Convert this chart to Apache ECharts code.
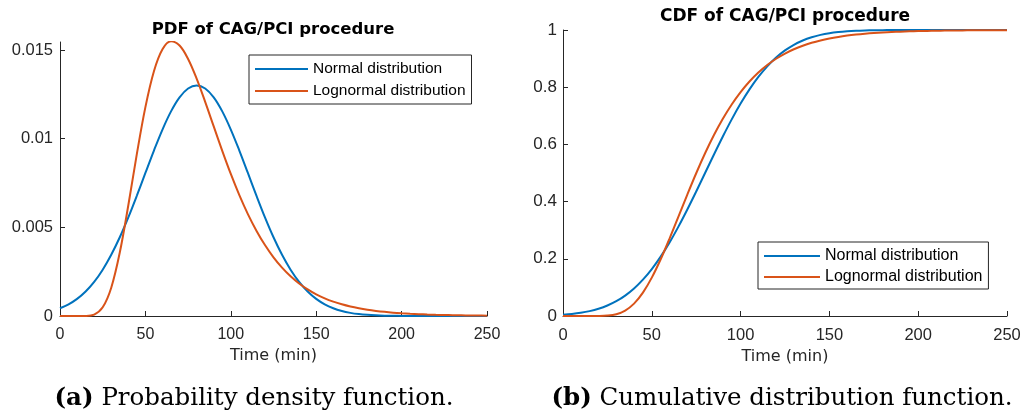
<!DOCTYPE html>
<html>
<head>
<meta charset="utf-8">
<script src="https://cdn.jsdelivr.net/npm/echarts@6/dist/echarts.min.js"></script>
<style>html,body{margin:0;padding:0;background:#fff}#c{width:1025px;height:415px}</style>
</head>
<body>
<div id="c"></div>
<script>
// ---- data ----
const times = [0,5,10,15,20,25,30,35,40,45,50,55,60,65,70,75,80,85,90,95,100,105,110,115,120,125,130,135,140,145,150,155,160,165,170,175,180,185,190,195,200,205,210,215,220,225,230,235,240,245,250];
const normalPdf = [0.000436,0.000658,0.000966,0.001382,0.001925,0.002612,0.003451,0.004440,0.005563,0.006788,0.008065,0.009331,0.010514,0.011537,0.012328,0.012829,0.013000,0.012829,0.012328,0.011537,0.010514,0.009331,0.008065,0.006788,0.005563,0.004440,0.003451,0.002612,0.001925,0.001382,0.000966,0.000658,0.000436,0.000281,0.000177,0.000108,0.000065,0.000038,0.000021,0.000012,0.000006,0.000003,0.000002,0.000001,0,0,0,0,0,0,0];
const lognormalPdf = [0,0,0,0.000005,0.000082,0.000490,0.001597,0.003578,0.006245,0.009143,0.011780,0.013802,0.015038,0.015486,0.015251,0.014494,0.013385,0.012075,0.010688,0.009312,0.008008,0.006814,0.005746,0.004810,0.004001,0.003311,0.002729,0.002241,0.001836,0.001500,0.001223,0.000996,0.000810,0.000659,0.000535,0.000435,0.000353,0.000287,0.000233,0.000189,0.000154,0.000125,0.000102,0.000083,0.000068,0.000055,0.000045,0.000037,0.000030,0.000025,0.000020];
const normalCdf = [0.00458,0.00728,0.0113,0.01712,0.02533,0.03661,0.05169,0.07135,0.09631,0.12712,0.16424,0.20774,0.25737,0.31257,0.37232,0.4353,0.5,0.5647,0.62768,0.68743,0.74263,0.79226,0.83576,0.87288,0.90369,0.92865,0.94831,0.96339,0.97467,0.98288,0.9887,0.99272,0.99542,0.99719,0.99831,0.99901,0.99944,0.99969,0.99983,0.99991,0.99995,0.99998,0.99999,1,1,1,1,1,1,1,1];
const lognormalCdf = [0,0,0,0.000006,0.000157,0.00137,0.00623,0.01881,0.04318,0.08166,0.13412,0.19839,0.2708,0.34749,0.42458,0.49912,0.56891,0.63269,0.68956,0.73956,0.78281,0.81983,0.85116,0.87746,0.89946,0.91767,0.93274,0.94514,0.95529,0.96359,0.97038,0.97591,0.98042,0.98406,0.98704,0.98946,0.99142,0.99302,0.9943,0.99536,0.99621,0.9969,0.99747,0.99793,0.9983,0.99861,0.99886,0.99906,0.99923,0.99937,0.99948];
const pdfTicks = [0,0.005,0.01,0.015];
const cdfTicks = [0,0.2,0.4,0.6,0.8,1];
const timeTicks = [0,50,100,150,200,250];
const seriesNames = ['Normal distribution','Lognormal distribution'];
const plotTitles = ['PDF of CAG/PCI procedure','CDF of CAG/PCI procedure'];
const captionTags = ['(a)','(b)'];
const captionTexts = ['Probability density function.','Cumulative distribution function.'];
const xName = 'Time (min)';

// ---- styling ----
const BLUE = '#0072BD', ORANGE = '#D95319', AX = '#262626';
const SANS = 'Liberation Sans, Arial, Helvetica, sans-serif';
const WIDE = 'DejaVu Sans, sans-serif';
const SERIF = 'DejaVu Serif, serif';

function pairs(ys){ return times.map((t,i)=>[t, ys[i]]); }

function xAxisCfg(gi, fs){
  return {
    type:'value', gridIndex:gi, min:timeTicks[0], max:timeTicks[timeTicks.length-1], interval:50,
    axisLine:{show:true, onZero:false, lineStyle:{color:AX, width:1}},
    axisTick:{show:true, inside:true, length:5, lineStyle:{color:AX}, customValues:timeTicks},
    axisLabel:{color:AX, fontFamily:SANS, fontSize:fs, margin:11, customValues:timeTicks},
    splitLine:{show:false},
    name:xName, nameLocation:'middle', nameGap:25,
    nameTextStyle:{color:AX, fontFamily:WIDE, fontSize:16}
  };
}
function yAxisCfg(gi, max, ticks, interval, fs, margin){
  return {
    type:'value', gridIndex:gi, min:0, max:max, interval:interval,
    axisLine:{show:true, onZero:false, lineStyle:{color:AX, width:1}},
    axisTick:{show:true, inside:true, length:5, lineStyle:{color:AX}, customValues:ticks},
    axisLabel:{color:AX, fontFamily:SANS, fontSize:fs, margin:margin, customValues:ticks},
    splitLine:{show:false}
  };
}
function lineSeries(name, color, xi, data){
  return {
    type:'line', name:name, xAxisIndex:xi, yAxisIndex:xi, data:pairs(data),
    showSymbol:false, symbol:'none', smooth:0.35,
    lineStyle:{color:color, width:2}, itemStyle:{color:color},
    emphasis:{disabled:true}, z:3
  };
}
function legendCfg(left, top, fs, iw, pad, gap){
  return {
    left:left, top:top, orient:'vertical', data:seriesNames,
    icon:'rect', itemWidth:iw, itemHeight:2, itemGap:gap, padding:pad,
    borderColor:AX, borderWidth:1, backgroundColor:'#fff',
    selectedMode:false,
    textStyle:{color:'#000', fontFamily:SANS, fontSize:fs}
  };
}
function textEl(txt, x, y, font){
  return {type:'text', x:x, y:y, silent:true,
    style:Object.assign({text:txt, fill:'#000', align:'center', verticalAlign:'middle'}, font)};
}

const chart = echarts.init(document.getElementById('c'), null, {renderer:'canvas'});
chart.setOption({
  animation:false,
  backgroundColor:'#fff',
  grid:[
    {left:60, top:42, width:427, height:274},
    {left:563, top:30, width:444, height:286}
  ],
  xAxis:[xAxisCfg(0,16), xAxisCfg(1,16.5)],
  yAxis:[yAxisCfg(0,0.01545,pdfTicks,0.005,16.5,7), yAxisCfg(1,1,cdfTicks,0.2,17,6)],
  legend:[
    legendCfg(249,55,15.5,53,[6,6,5,6],6),
    legendCfg(758,242,16,56,[6,6,4,6],5)
  ],
  series:[
    lineSeries(seriesNames[0], BLUE, 0, normalPdf),
    lineSeries(seriesNames[1], ORANGE, 0, lognormalPdf),
    lineSeries(seriesNames[0], BLUE, 1, normalCdf),
    lineSeries(seriesNames[1], ORANGE, 1, lognormalCdf)
  ],
  graphic:[
    textEl(plotTitles[0], 273, 30, {fontFamily:WIDE, fontSize:16.5, fontWeight:'bold'}),
    textEl(plotTitles[1], 785, 17, {fontFamily:WIDE, fontSize:17, fontWeight:'bold'}),
    textEl('{b|'+captionTags[0]+'} '+captionTexts[0], 254, 399, {fontFamily:SERIF, fontSize:24.5,
      rich:{b:{fontFamily:SERIF, fontSize:24.5, fontWeight:'bold'}}}),
    textEl('{b|'+captionTags[1]+'} '+captionTexts[1], 782, 399, {fontFamily:SERIF, fontSize:24.5,
      rich:{b:{fontFamily:SERIF, fontSize:24.5, fontWeight:'bold'}}})
  ]
});
</script>
</body>
</html>
